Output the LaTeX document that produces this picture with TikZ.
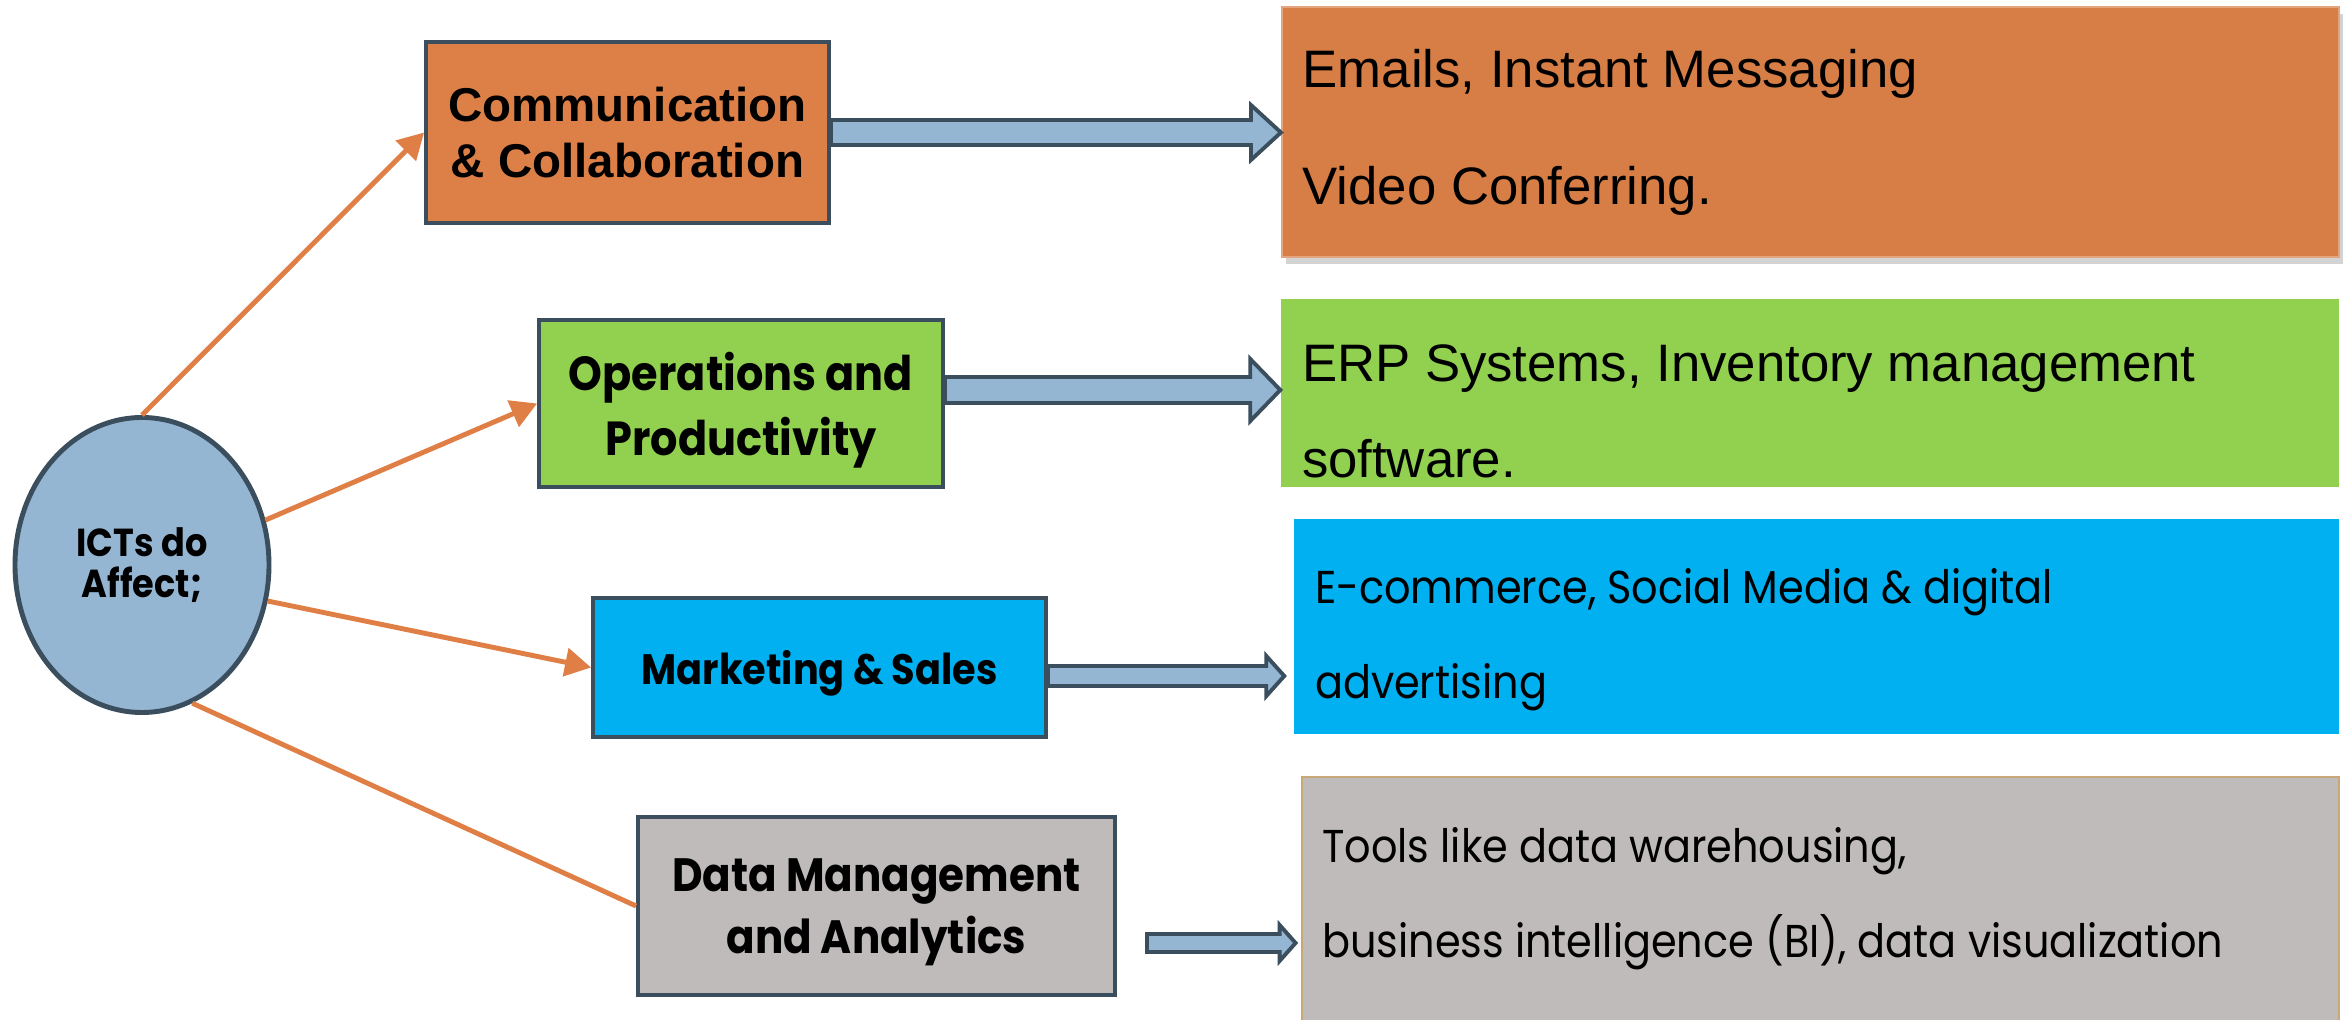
\documentclass[tikz,border=0pt]{standalone}
\usepackage{fontspec}
\setmainfont{Liberation Sans}
\newfontfamily\geofont[FakeStretch=0.9]{Poppins}
\usepackage{tikz}
\usetikzlibrary{arrows.meta,positioning,calc,shapes.geometric,shadows}

\definecolor{slate}{HTML}{3B4E5E}
\definecolor{skyfill}{HTML}{94B6D2}
\definecolor{linkorange}{HTML}{E07F45}
\definecolor{commorange}{HTML}{DD8047}
\definecolor{mailorange}{HTML}{D67E46}
\definecolor{opsgreen}{HTML}{92D050}
\definecolor{mktcyan}{HTML}{00B0F0}
\definecolor{datagray}{HTML}{C0BBBB}
\definecolor{tan}{HTML}{C9A878}

% fat block arrow: tail, tip, half shaft, half head, head length
\newcommand{\fatarrow}[5]{%
  \draw[fat] ($(#1)+(0,#3)$) -- ($(#2)+(-#5,#3)$) -- ($(#2)+(-#5,#4)$) -- (#2)
    -- ($(#2)+(-#5,-#4)$) -- ($(#2)+(-#5,-#3)$) -- ($(#1)+(0,-#3)$) -- cycle;}

\begin{document}
\begin{tikzpicture}[
  hub/.style={ellipse, draw=slate, line width=1.4pt, fill=skyfill, inner sep=0pt,
    minimum width=25.4mm, minimum height=29.5mm, align=center,
    font=\geofont\bfseries\fontsize{11.1}{11.7}\selectfont},
  area/.style={rectangle, draw=slate, line width=1.1pt, align=center, text depth=0pt,
    font=\geofont\bfseries\fontsize{13.3}{17.7}\selectfont},
  info/.style={rectangle, inner sep=0pt},
  infotext/.style={anchor=west, inner sep=0pt, align=left},
  link/.style={-{Triangle[length=2.6mm,width=2.8mm]}, linkorange, line width=1.4pt},
  fat/.style={draw=slate, fill=skyfill, line width=1.1pt, line join=miter}
]
\useasboundingbox (0,0) rectangle (23.43,-10.20);

% hub
\node[hub] (ict) at (1.42,-5.65) {ICTs do\\Affect;};

% areas
\node[area, fill=commorange, minimum width=40.3mm, minimum height=18.1mm, text depth=,
  font=\bfseries\fontsize{13.5}{16}\selectfont] (comm) at (6.275,-1.325)
  {Communication\\\& Collaboration};
\node[area, fill=opsgreen, minimum width=40.4mm, minimum height=16.7mm,
  font=\geofont\bfseries\fontsize{13.6}{18.5}\selectfont] (ops) at (7.41,-4.035)
  {Operations and\\Productivity};
\node[area, fill=mktcyan, minimum width=45.3mm, minimum height=13.9mm,
  font=\geofont\bfseries\fontsize{12.1}{17}\selectfont] (mkt) at (8.195,-6.675)
  {Marketing \& Sales};
\node[area, fill=datagray, minimum width=47.7mm, minimum height=17.8mm] (data) at (8.765,-9.06)
  {Data Management\\and Analytics};

% examples
\node[info, fill=mailorange, draw=mailorange!70!white, line width=0.6pt,
  drop shadow={shadow xshift=0.4mm, shadow yshift=-0.7mm, opacity=0.35},
  minimum width=105.7mm, minimum height=25mm] (mail) at (18.105,-1.32) {};
\node[info, fill=opsgreen, minimum width=105.8mm, minimum height=18.8mm] (erp) at (18.10,-3.93) {};
\node[info, fill=mktcyan, minimum width=104.5mm, minimum height=21.5mm] (ecom) at (18.165,-6.265) {};
\node[info, fill=datagray, draw=tan, line width=0.8pt,
  minimum width=103.7mm, minimum height=25.3mm] (tools) at (18.205,-9.035) {};

\node[infotext, font=\fontsize{15}{33.3}\selectfont] (mail-txt)
  at ($(mail.west)+(0.21,0)$) {Emails, Instant Messaging\\Video Conferring.};
\node[infotext, font=\fontsize{15}{27.3}\selectfont] (erp-txt)
  at ($(erp.west)+(0.21,-0.18)$) {ERP Systems, Inventory management\\software.};
\node[infotext, font=\geofont\fontsize{13.1}{27}\selectfont] (ecom-txt)
  at ($(ecom.west)+(0.21,-0.13)$) {E-commerce, Social Media \& digital\\advertising};
\node[infotext, font=\geofont\fontsize{13.1}{27}\selectfont] (tools-txt)
  at ($(tools.west)+(0.21,0.045)$) {Tools like data warehousing,\\business intelligence (BI), data visualization};

% hub to areas
\draw[link] (ict.north) -- (comm.west);
\draw[link] (ict.20.8) -- (ops.west);
\draw[link] (ict.-16.6) -- (mkt.west);
\draw[link, -] (ict.-70.6) -- (data.west);

% block arrows to examples
\coordinate (t1) at (comm.east -| mail.west);
\coordinate (s2) at ($(ops.east)+(0,0.135)$);
\coordinate (t2) at (s2 -| erp.west);
\coordinate (s3) at ($(mkt.east)+(0,-0.085)$);
\coordinate (t3) at ($(s3 -| ecom.west)+(-0.09,0)$);
\coordinate (s4) at ($(data.east)+(0.30,-0.37)$);
\coordinate (t4) at ($(s4 -| tools.west)+(-0.05,0)$);
\fatarrow{comm.east}{t1}{0.125}{0.275}{0.30}
\fatarrow{s2}{t2}{0.13}{0.31}{0.30}
\fatarrow{s3}{t3}{0.10}{0.20}{0.18}
\fatarrow{s4}{t4}{0.09}{0.18}{0.16}

\end{tikzpicture}
\end{document}
